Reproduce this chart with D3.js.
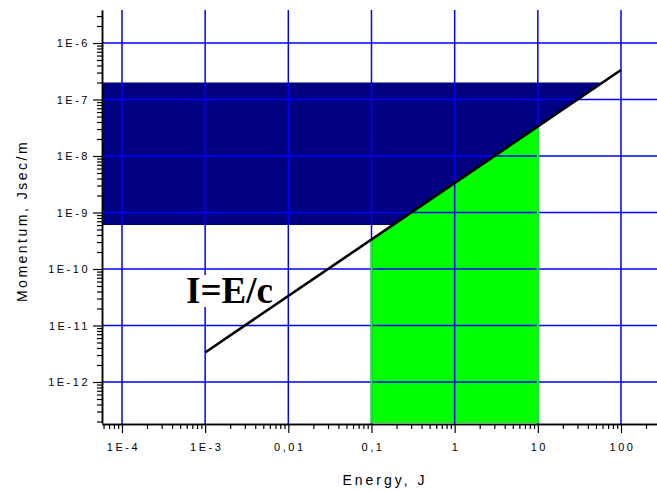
<!DOCTYPE html>
<html>
<head>
<meta charset="utf-8">
<script src="https://cdn.jsdelivr.net/npm/d3@7"></script>
<style>
  html, body { margin: 0; padding: 0; background: #fff; }
  svg { display: block; }
  .tick text { font-family: "Liberation Sans", Arial, sans-serif; font-size: 11px; letter-spacing: 2.5px; fill: #000; }
</style>
</head>
<body>
<svg id="chart" width="657" height="491"></svg>
<script>
// ---------- data ----------
const speedOfLight = 3e8;
const xDomain = [5.75e-5, 271];          // Energy, J
const yDomain = [1.88e-13, 3.84e-6];     // Momentum, Jsec/m
const xTicks = [1e-4, 1e-3, 1e-2, 1e-1, 1, 10, 100];
const xTickLabels = ["1E-4", "1E-3", "0,01", "0,1", "1", "10", "100"];
const yTicks = [1e-12, 1e-11, 1e-10, 1e-9, 1e-8, 1e-7, 1e-6];
const yTickLabels = ["1E-12", "1E-11", "1E-10", "1E-9", "1E-8", "1E-7", "1E-6"];
const lineEnergy = [1e-3, 100];
const lineMomentum = [3.33e-12, 3.33e-7];
const navyMomentum = [6e-10, 2e-7];      // momentum band (above I=E/c)
const greenEnergy = [0.1, 10];           // energy band (below I=E/c)
const labelText = "I=E/c";

// ---------- layout ----------
const pLeft = 102, pRight = 657, pTop = 10, pBottom = 424;
const svg = d3.select("#chart");
const x = d3.scaleLog().domain(xDomain).range([pLeft, pRight]);
const y = d3.scaleLog().domain(yDomain).range([pBottom - 1, pTop]);

const toPath = pts => d3.line().x(d => x(d[0])).y(d => y(d[1]))(pts) + "Z";

// navy region: momentum band, cut on the right by the I=E/c line
const navyPts = [
  [xDomain[0], navyMomentum[0]],
  [xDomain[0], navyMomentum[1]],
  [navyMomentum[1] * speedOfLight, navyMomentum[1]],
  [navyMomentum[0] * speedOfLight, navyMomentum[0]]
];
svg.append("path").attr("d", toPath(navyPts)).attr("fill", "#000080");

// green region: energy band below the line
const greenPts = [
  [greenEnergy[0], yDomain[0]],
  [greenEnergy[0], greenEnergy[0] / speedOfLight],
  [greenEnergy[1], greenEnergy[1] / speedOfLight],
  [greenEnergy[1], yDomain[0]]
];
svg.append("path").attr("d", toPath(greenPts)).attr("fill", "#00ff00");

// grid
const grid = svg.append("g").attr("stroke", "#0000ff").attr("stroke-width", 1.5);
grid.selectAll("line.v").data(xTicks).join("line").attr("class", "v")
  .attr("x1", d => x(d)).attr("x2", d => x(d))
  .attr("y1", pTop).attr("y2", pBottom);
grid.selectAll("line.h").data(yTicks).join("line").attr("class", "h")
  .attr("x1", pLeft).attr("x2", pRight)
  .attr("y1", d => y(d)).attr("y2", d => y(d));

// green edges cover the vertical grid lines on the band borders
svg.selectAll("line.gedge").data(greenEnergy).join("line").attr("class", "gedge")
  .attr("x1", d => x(d)).attr("x2", d => x(d))
  .attr("y1", d => y(d / speedOfLight) + 1).attr("y2", pBottom - 1)
  .attr("stroke", "#00ff00").attr("stroke-width", 2);

// label background
svg.append("rect").attr("x", 184).attr("y", 275).attr("width", 93).attr("height", 32).attr("fill", "#fff");

// I = E/c line
svg.append("path")
  .attr("d", d3.line().x(d => x(d[0])).y(d => y(d[1]))(lineEnergy.map((e, i) => [e, lineMomentum[i]])))
  .attr("stroke", "#000").attr("stroke-width", 2.6).attr("fill", "none");

svg.append("text").attr("x", 186).attr("y", 303)
  .attr("font-family", "'Liberation Serif', 'Times New Roman', serif")
  .attr("font-weight", "bold").attr("font-size", 37).attr("fill", "#000")
  .text(labelText);

// minor ticks
function minors(domain) {
  const out = [];
  const lo = Math.floor(Math.log10(domain[0])), hi = Math.ceil(Math.log10(domain[1]));
  for (let p = lo; p <= hi; p++) for (let k = 2; k <= 9; k++) {
    const v = k * Math.pow(10, p);
    if (v >= domain[0] && v <= domain[1]) out.push(v);
  }
  return out;
}

// axes
const xAxisMinor = svg.append("g").attr("transform", `translate(0,${pBottom})`)
  .call(d3.axisBottom(x).tickValues(minors(xDomain)).tickSize(5).tickSizeOuter(0).tickFormat(""));
const xAxis = svg.append("g").attr("transform", `translate(0,${pBottom})`)
  .call(d3.axisBottom(x).tickValues(xTicks).tickSize(9).tickSizeOuter(0).tickPadding(10)
    .tickFormat((d, i) => xTickLabels[i]));
const yAxisMinor = svg.append("g").attr("transform", `translate(${pLeft},0)`)
  .call(d3.axisLeft(y).tickValues(minors(yDomain)).tickSize(5).tickSizeOuter(0).tickFormat(""));
const yAxis = svg.append("g").attr("transform", `translate(${pLeft},0)`)
  .call(d3.axisLeft(y).tickValues(yTicks).tickSize(9).tickSizeOuter(0).tickPadding(3)
    .tickFormat((d, i) => yTickLabels[i]));

[xAxisMinor, xAxis, yAxisMinor, yAxis].forEach(g => {
  g.attr("font-family", null).attr("font-size", null);
  g.selectAll("path.domain").attr("stroke", "#000").attr("stroke-width", 1.5);
  g.selectAll(".tick line").attr("stroke", "#000").attr("stroke-width", 1.2);
});
xAxis.selectAll(".tick text").attr("dy", "0.71em").attr("dx", "1px");

// titles
svg.append("text").attr("x", 385).attr("y", 485).attr("text-anchor", "middle")
  .attr("font-family", "'Liberation Sans', Arial, sans-serif").attr("font-size", 14)
  .attr("letter-spacing", "3px").text("Energy, J");
svg.append("text").attr("transform", "translate(27,221) rotate(-90)").attr("text-anchor", "middle")
  .attr("font-family", "'Liberation Sans', Arial, sans-serif").attr("font-size", 14)
  .attr("letter-spacing", "2.5px").text("Momentum, Jsec/m");
</script>
</body>
</html>
